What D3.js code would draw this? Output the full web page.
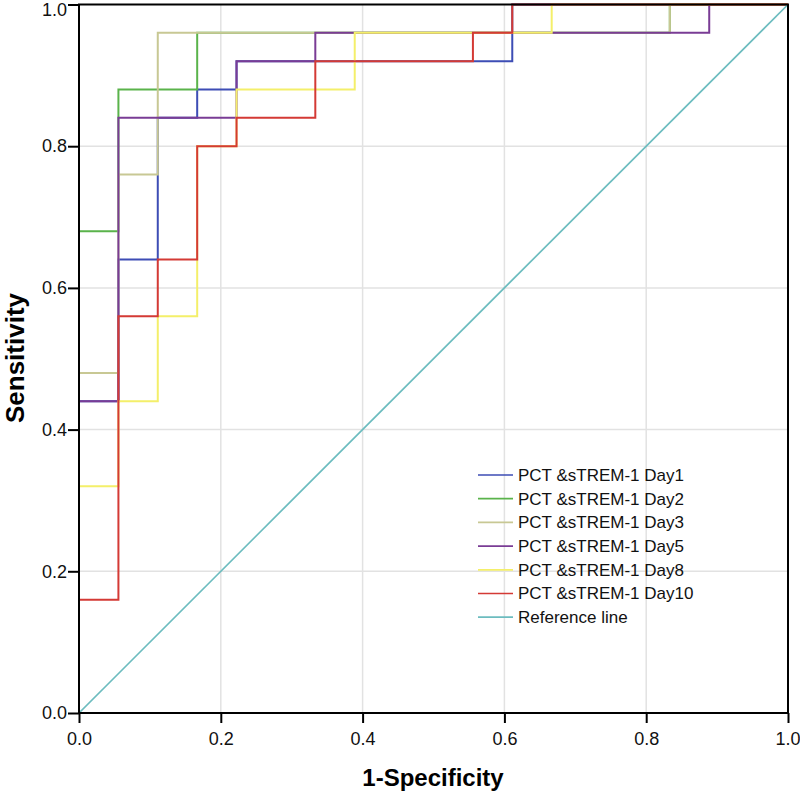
<!DOCTYPE html>
<html><head><meta charset="utf-8">
<script src="https://cdn.jsdelivr.net/npm/d3@7"></script>
<style>body{margin:0;background:#fff}svg{display:block}</style>
</head><body>
<script>
const xTicks = [0, 0.2, 0.4, 0.6, 0.8, 1.0];
const yTicks = [0, 0.2, 0.4, 0.6, 0.8, 1.0];
const seriesNames = ["PCT &sTREM-1 Day1","PCT &sTREM-1 Day2","PCT &sTREM-1 Day3","PCT &sTREM-1 Day5","PCT &sTREM-1 Day8","PCT &sTREM-1 Day10","Reference line"];
const seriesColors = ["#3d4db5","#5ab34b","#c8c894","#7a3c95","#f4ef6a","#d43a35","#6cbcbf"];

const day1Fpr = [0,0,0.0556,0.0556,0.1111,0.1111,0.1667,0.1667,0.2222,0.2222,0.6111,0.6111,1];
const day1Tpr = [0,0.44,0.44,0.64,0.64,0.84,0.84,0.88,0.88,0.92,0.92,1,1];
const day2Fpr = [0,0,0.0556,0.0556,0.1667,0.1667,0.8333,0.8333,1];
const day2Tpr = [0,0.68,0.68,0.88,0.88,0.96,0.96,1,1];
const day3Fpr = [0,0,0.0556,0.0556,0.1111,0.1111,0.8333,0.8333,1];
const day3Tpr = [0,0.48,0.48,0.76,0.76,0.96,0.96,1,1];
const day5Fpr = [0,0,0.0556,0.0556,0.2222,0.2222,0.3333,0.3333,0.8889,0.8889,1];
const day5Tpr = [0,0.44,0.44,0.84,0.84,0.92,0.92,0.96,0.96,1,1];
const day8Fpr = [0,0,0.0556,0.0556,0.1111,0.1111,0.1667,0.1667,0.2222,0.2222,0.3889,0.3889,0.6667,0.6667,1];
const day8Tpr = [0,0.32,0.32,0.44,0.44,0.56,0.56,0.80,0.80,0.88,0.88,0.96,0.96,1,1];
const day10Fpr = [0,0,0.0556,0.0556,0.1111,0.1111,0.1667,0.1667,0.2222,0.2222,0.3333,0.3333,0.5556,0.5556,0.6111,0.6111,1];
const day10Tpr = [0,0.16,0.16,0.56,0.56,0.64,0.64,0.80,0.80,0.84,0.84,0.92,0.92,0.96,0.96,1,1];
const refFpr = [0,1];
const refTpr = [0,1];

const seriesFpr = [day1Fpr,day2Fpr,day3Fpr,day5Fpr,day8Fpr,day10Fpr,refFpr];
const seriesTpr = [day1Tpr,day2Tpr,day3Tpr,day5Tpr,day8Tpr,day10Tpr,refTpr];

const W = 800, H = 793;
const pL = 79, pR = 788, pT = 4.5, pB = 713;
const svg = d3.select("body").append("svg").attr("width", W).attr("height", H);
const x = d3.scaleLinear().domain([0,1]).range([pL, pR]);
const y = d3.scaleLinear().domain([0,1]).range([pB, pT]);
const font = "Arial, 'Liberation Sans', sans-serif";

// gridlines
svg.append("g").selectAll("line").data(xTicks.slice(1,-1)).join("line")
  .attr("x1", d => x(d)).attr("x2", d => x(d)).attr("y1", pT).attr("y2", pB)
  .attr("stroke", "#e2e2e2").attr("stroke-width", 1.5);
svg.append("g").selectAll("line").data(yTicks.slice(1,-1)).join("line")
  .attr("y1", d => y(d)).attr("y2", d => y(d)).attr("x1", pL).attr("x2", pR)
  .attr("stroke", "#e2e2e2").attr("stroke-width", 1.5);

// series
const line = d3.line().x(d => x(d[0])).y(d => y(d[1]));
seriesNames.forEach((name, i) => {
  const pts = seriesFpr[i].map((v, j) => [v, seriesTpr[i][j]]);
  svg.append("path").datum(pts).attr("d", line)
    .attr("fill", "none").attr("stroke", seriesColors[i])
    .attr("stroke-width", i === 6 ? 1.7 : 2);
});

// frame
svg.append("rect").attr("x", pL).attr("y", pT).attr("width", pR-pL).attr("height", pB-pT)
  .attr("fill", "none").attr("stroke", "#000").attr("stroke-width", 2);

// axes
const xAxis = d3.axisBottom(x).tickValues(xTicks).tickFormat(d3.format(".1f")).tickSize(10).tickPadding(9);
const gx = svg.append("g").attr("transform", `translate(0,${pB})`).call(xAxis);
const yAxis = d3.axisLeft(y).tickValues(yTicks).tickFormat(d3.format(".1f")).tickSize(11).tickPadding(1);
const gy = svg.append("g").attr("transform", `translate(${pL},0)`).call(yAxis);
[gx, gy].forEach(g => {
  g.select(".domain").remove();
  g.selectAll(".tick line").attr("stroke", "#000").attr("stroke-width", 2);
  g.selectAll(".tick text").attr("fill", "#111").style("font-family", font).style("font-size", "18px");
});
gy.selectAll(".tick text").filter(d => d === 1).attr("dy", "0.62em");
gx.selectAll(".tick text").filter(d => d === 1).attr("text-anchor", "end").attr("dx", "12px");

// titles
svg.append("text").attr("x", 433).attr("y", 786).attr("text-anchor", "middle")
  .style("font-family", font).style("font-size", "24px").style("font-weight", "bold").text("1-Specificity");
svg.append("text").attr("transform", `translate(24,358) rotate(-90)`).attr("text-anchor", "middle")
  .style("font-family", font).style("font-size", "26px").style("font-weight", "bold").text("Sensitivity");

// legend
const lg = svg.append("g").attr("transform", "translate(478,475)");
seriesNames.forEach((name, i) => {
  const row = lg.append("g").attr("transform", `translate(0,${i*23.7})`);
  row.append("line").attr("x1", 0).attr("x2", 35).attr("y1", 0).attr("y2", 0)
    .attr("stroke", seriesColors[i]).attr("stroke-width", 1.7);
  row.append("text").attr("x", 40).attr("y", 0).attr("dy", "0.35em")
    .style("font-family", font).style("font-size", "17px").attr("fill", "#111").text(name);
});
</script>
</body></html>
